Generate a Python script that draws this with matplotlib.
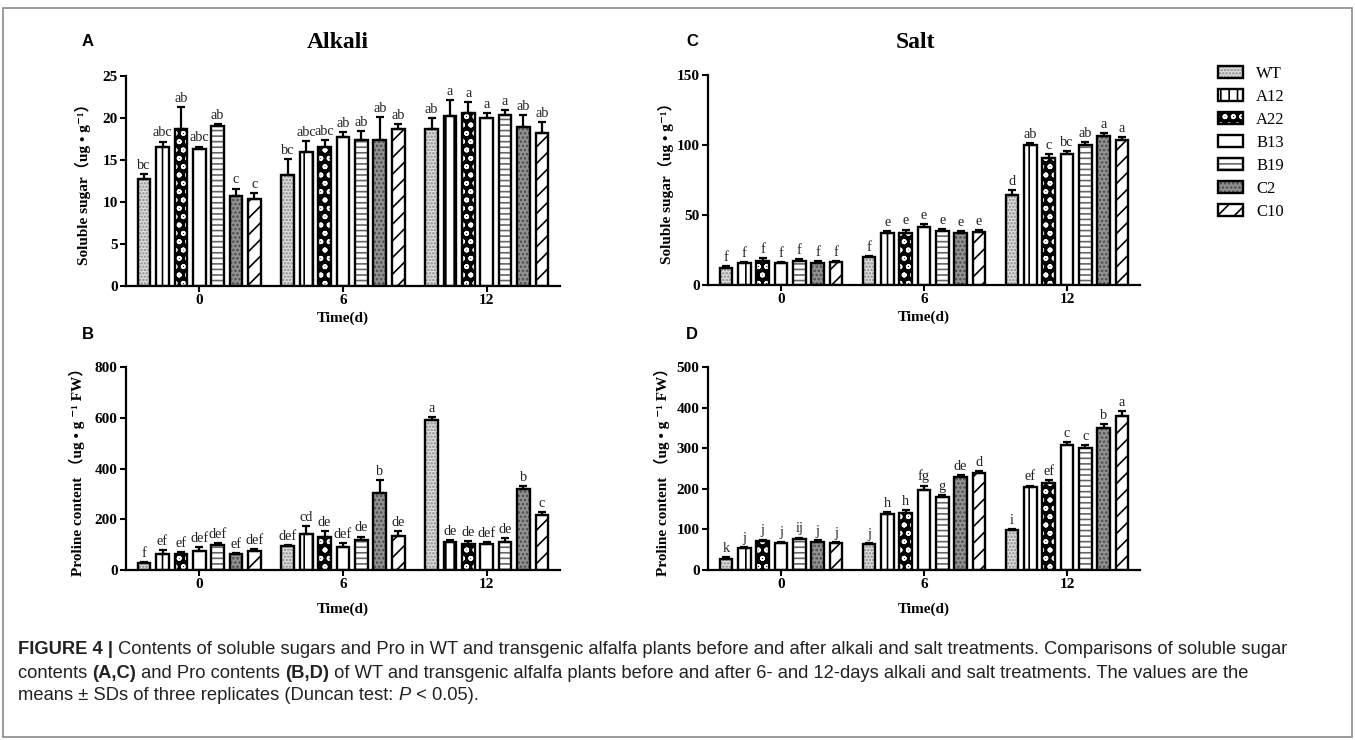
import matplotlib.pyplot as plt
import numpy as np
from matplotlib.patches import Rectangle
from matplotlib.legend_handler import HandlerTuple

lines = ['WT', 'A12', 'A22', 'B13', 'B19', 'C2', 'C10']
days = ['0', '6', '12']

# rows = lines, columns = days 0, 6, 12
alk_sugar = [[12.7, 13.2, 18.7], [16.5, 16.0, 20.2], [18.7, 16.6, 20.6], [16.3, 17.75, 20.0],
             [19.1, 17.35, 20.3], [10.7, 17.4, 18.9], [10.4, 18.7, 18.2]]
alk_sugar_sd = [[0.6, 1.9, 1.3], [0.7, 1.3, 1.9], [2.6, 0.8, 1.3], [0.3, 0.55, 0.6],
                [0.2, 1.15, 0.6], [0.9, 2.7, 1.5], [0.7, 0.55, 1.3]]
alk_sugar_let = [['bc', 'bc', 'ab'], ['abc', 'abc', 'a'], ['ab', 'abc', 'a'], ['abc', 'ab', 'a'],
                 ['ab', 'ab', 'a'], ['c', 'ab', 'ab'], ['c', 'ab', 'ab']]

alk_pro = [[27, 95, 593], [65, 143, 110], [63, 130, 103], [75, 92, 103],
           [100, 118, 112], [62, 305, 320], [73, 133, 217]]
alk_pro_sd = [[4, 5, 10], [12, 30, 8], [6, 22, 10], [15, 15, 8],
              [5, 14, 15], [5, 50, 12], [10, 20, 13]]
alk_pro_let = [['f', 'def', 'a'], ['ef', 'cd', 'de'], ['ef', 'de', 'de'], ['def', 'def', 'def'],
               ['def', 'de', 'de'], ['ef', 'b', 'b'], ['def', 'de', 'c']]

salt_sugar = [[12.3, 20.2, 64.6], [15.4, 36.8, 100.2], [17.1, 36.8, 90.7], [15.4, 41.1, 93.3],
              [17.3, 38.5, 99.7], [15.4, 36.8, 106.3], [16.1, 38.0, 103.3]]
salt_sugar_sd = [[1.5, 0.8, 3.5], [1.2, 1.9, 1.4], [2.4, 2.8, 3.1], [1.2, 2.3, 2.4],
                 [1.5, 1.6, 2.4], [1.5, 1.9, 2.4], [1.2, 1.2, 2.3]]
salt_sugar_let = [['f', 'f', 'd'], ['f', 'e', 'ab'], ['f', 'e', 'c'], ['f', 'e', 'bc'],
                  ['f', 'e', 'ab'], ['f', 'e', 'a'], ['f', 'e', 'a']]

salt_pro = [[28, 64, 98], [54, 139, 204], [72, 140, 214], [66, 197, 307],
            [77, 181, 301], [70, 229, 350], [66, 239, 380]]
salt_pro_sd = [[4, 3, 4], [3, 3, 4], [3, 8, 8], [4, 11, 8],
               [3, 4, 6], [3, 4, 10], [3, 4, 12]]
salt_pro_let = [['k', 'j', 'i'], ['j', 'h', 'ef'], ['j', 'h', 'ef'], ['j', 'fg', 'c'],
                ['ij', 'g', 'c'], ['j', 'de', 'b'], ['j', 'd', 'a']]

# face colour, hatch colour, hatch
styles = {
    'WT': ('#dedede', '#8a8a8a', '.....'),
    'A12': ('white', 'black', '||'),
    'A22': ('black', 'white', 'oo'),
    'B13': ('white', 'white', ''),
    'B19': ('white', '#666666', '---'),
    'C2': ('#929292', '#4a4a4a', '....'),
    'C10': ('white', 'black', '//'),
}

plt.rcParams['hatch.linewidth'] = 1.2
serif = ['Liberation Serif', 'DejaVu Serif', 'Noto Sans CJK SC']

W, H = 1355, 740
fig = plt.figure(figsize=(W / 100, H / 100), dpi=100)


def px_rect(left, top, right, bottom):
    return [left / W, 1 - bottom / H, (right - left) / W, (bottom - top) / H]


def panel(rect, means, sds, letters, ymax, ystep, ylabel, ylab_x, xlab_y):
    ax = fig.add_axes(rect)
    x = np.arange(len(days))
    step, w = 0.128, 0.088
    handles = []
    for i, name in enumerate(lines):
        face, hc, hatch = styles[name]
        pos = x + (i - 3) * step
        fill = ax.bar(pos, means[i], w, color=face, edgecolor=hc, hatch=hatch, linewidth=0, zorder=2)
        edge = ax.bar(pos, means[i], w, facecolor='none', edgecolor='black', linewidth=1.7, zorder=3)
        ax.errorbar(pos, means[i], yerr=[np.zeros(3), sds[i]], fmt='none', ecolor='black',
                    elinewidth=1.6, capsize=3, capthick=1.6, zorder=4)
        for xi, m, e, t in zip(pos, means[i], sds[i], letters[i]):
            ax.annotate(t, (xi, m + e), xytext=(0, 1.5), textcoords='offset points', ha='center',
                        va='bottom', fontsize=10.3, family=serif, color='#222222')
        handles.append((fill[0], edge[0]))
    ax.set_xlim(-0.51, 2.51)
    ax.set_ylim(0, ymax)
    ax.set_yticks(np.arange(0, ymax + 1, ystep))
    ax.set_xticks(x)
    ax.set_xticklabels(days)
    for s in ['top', 'right']:
        ax.spines[s].set_visible(False)
    for s in ['left', 'bottom']:
        ax.spines[s].set_linewidth(1.6)
    ax.tick_params(direction='out', length=4, width=1.5, pad=2)
    for lab in ax.get_xticklabels() + ax.get_yticklabels():
        lab.set_family(serif)
        lab.set_fontweight('bold')
        lab.set_fontsize(11)
    ax.set_ylabel(ylabel, fontsize=11, fontweight='bold', family=serif)
    ax.yaxis.set_label_coords(ylab_x, 0.5)
    ax.set_xlabel('Time(d)', fontsize=11, fontweight='bold', family=serif)
    ax.xaxis.set_label_coords(0.5, xlab_y)
    return handles


sugar_lab = 'Soluble sugar（ug • g⁻¹）'
pro_lab = 'Proline content （ug • g ⁻¹ FW）'

handles = panel(px_rect(126, 76, 560, 286), alk_sugar, alk_sugar_sd, alk_sugar_let, 25, 5,
                sugar_lab, -0.08, -0.12)
panel(px_rect(126, 367, 560, 570), alk_pro, alk_pro_sd, alk_pro_let, 800, 200,
      pro_lab, -0.095, -0.16)
panel(px_rect(708, 75, 1140, 285), salt_sugar, salt_sugar_sd, salt_sugar_let, 150, 50,
      sugar_lab, -0.078, -0.12)
panel(px_rect(708, 367, 1140, 570), salt_pro, salt_pro_sd, salt_pro_let, 500, 100,
      pro_lab, -0.087, -0.16)

fig.text(338 / W, 1 - 42 / H, 'Alkali', fontsize=17, fontweight='bold', family=serif, ha='center', va='center')
fig.text(915 / W, 1 - 42 / H, 'Salt', fontsize=17, fontweight='bold', family=serif, ha='center', va='center')
for lab, px, py in [('A', 82, 42), ('B', 82, 335), ('C', 686, 42), ('D', 686, 335)]:
    fig.text(px / W, 1 - py / H, lab, fontsize=12, fontweight='bold', family='Liberation Sans',
             ha='left', va='center')

fig.legend(handles, lines, loc='upper left', bbox_to_anchor=(1203 / W, 1 - 51 / H), frameon=False,
           handler_map={tuple: HandlerTuple(ndivide=1)}, handlelength=1.5, handleheight=0.75,
           handletextpad=0.8, labelspacing=0.42, prop={'family': serif, 'size': 12})

fig.add_artist(Rectangle((3 / W, 3 / H), 1349 / W, 729 / H, transform=fig.transFigure,
                         fill=False, edgecolor='#8a8a8a', linewidth=1.2))

renderer = fig.canvas.get_renderer()


def caption_line(py, runs):
    x = 18 / W
    for text, weight, style in runs:
        t = fig.text(x, 1 - py / H, text, fontsize=13.2, family='Liberation Sans', fontweight=weight,
                     fontstyle=style, va='center', ha='left', color='#222222')
        x = t.get_window_extent(renderer).x1 / W


caption_line(650, [('FIGURE 4 |', 'bold', 'normal'),
                   (' Contents of soluble sugars and Pro in WT and transgenic alfalfa plants before and after '
                    'alkali and salt treatments. Comparisons of soluble sugar', 'normal', 'normal')])
caption_line(673, [('contents ', 'normal', 'normal'), ('(A,C)', 'bold', 'normal'),
                   (' and Pro contents ', 'normal', 'normal'), ('(B,D)', 'bold', 'normal'),
                   (' of WT and transgenic alfalfa plants before and after 6- and 12-days alkali and salt '
                    'treatments. The values are the', 'normal', 'normal')])
caption_line(695, [('means ± SDs of three replicates (Duncan test: ', 'normal', 'normal'),
                   ('P', 'normal', 'italic'), (' < 0.05).', 'normal', 'normal')])

fig.savefig('out.png', dpi=100)
